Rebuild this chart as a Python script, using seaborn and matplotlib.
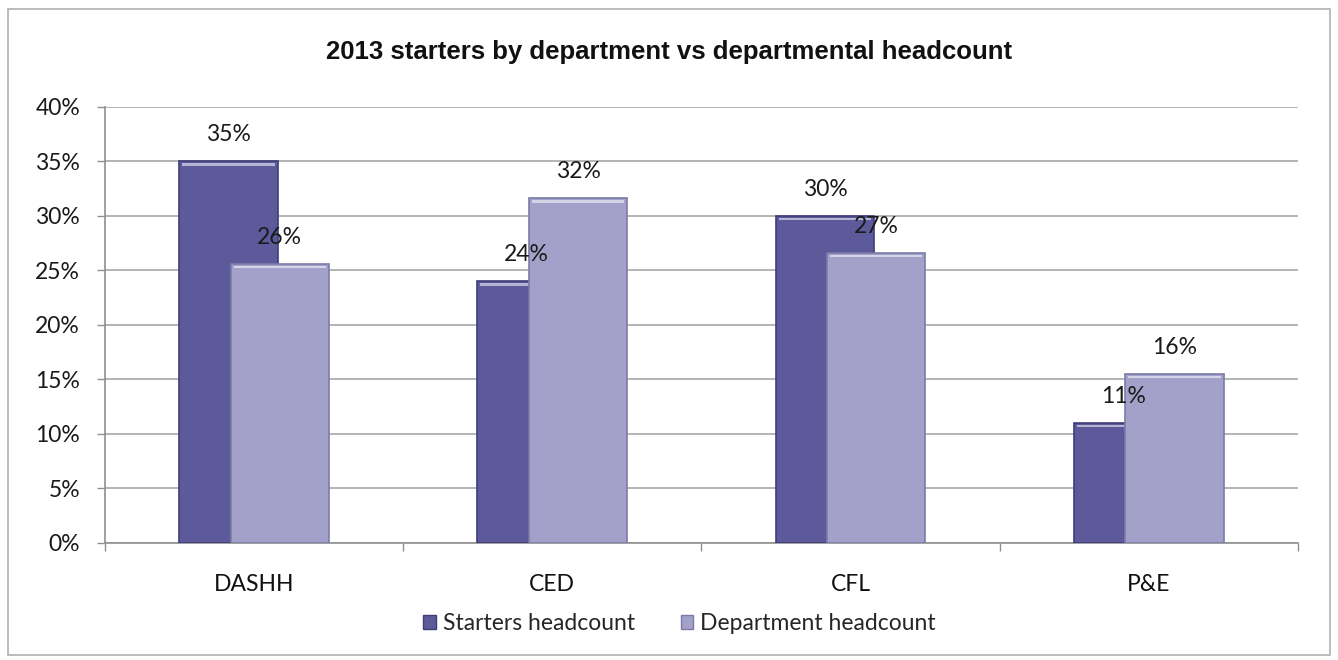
import matplotlib
matplotlib.use("Agg")
import matplotlib.pyplot as plt
from matplotlib.patches import Rectangle
from matplotlib.ticker import PercentFormatter, FixedLocator
import seaborn as sns
import pandas as pd

departments = ["DASHH", "CED", "CFL", "P&E"]
starters_headcount = [0.35, 0.24, 0.30, 0.11]
department_headcount = [0.256, 0.316, 0.266, 0.155]
series_names = ["Starters headcount", "Department headcount"]
y_ticks = [0.0, 0.05, 0.10, 0.15, 0.20, 0.25, 0.30, 0.35, 0.40]

df = pd.DataFrame({
    "department": departments * 2,
    "share": starters_headcount + department_headcount,
    "series": [series_names[0]] * len(departments) + [series_names[1]] * len(departments),
})

sns.set_theme(style="white")
plt.rcParams["font.family"] = ["Lato", "DejaVu Sans"]

colors = {series_names[0]: "#5d5a9c", series_names[1]: "#a3a1ca"}
edges = {series_names[0]: "#3f3c78", series_names[1]: "#7c7aa8"}

fig = plt.figure(figsize=(13.38, 6.6), dpi=100)
ax = fig.add_axes([0.0785, 0.1773, 0.8915, 0.6607])

sns.barplot(data=df, x="department", y="share", hue="series", order=departments,
            hue_order=series_names, palette=colors, width=0.66, dodge=True,
            errorbar=None, saturation=1, ax=ax, legend=False)

# pull the paired bars together so that they overlap; the second series sits in front
shift = 0.079
for container, sgn, name, z in zip(ax.containers, (1, -1), series_names, (3, 5)):
    for bar in container:
        bar.set_x(bar.get_x() + sgn * shift)
        bar.set_edgecolor(edges[name])
        bar.set_linewidth(1.2)
        bar.set_zorder(z)
        # light bevel along the top edge
        x0, w, h = bar.get_x(), bar.get_width(), bar.get_height()
        ax.add_patch(Rectangle((x0 + 0.01, h - 0.004), w - 0.02, 0.0025,
                               facecolor="white", alpha=0.55, edgecolor="none",
                               zorder=z + 0.5))
        ax.text(x0 + w / 2, h + 0.015, f"{h:.0%}", ha="center", va="bottom",
                fontsize=16.5, color="#1a1a1a", zorder=10)

ax.set_xlim(-0.5, len(departments) - 0.5)
ax.set_ylim(0, 0.40)
ax.set_yticks(y_ticks)
ax.yaxis.set_major_formatter(PercentFormatter(1.0, decimals=0))
ax.grid(axis="y", color="#a8a8a8", linewidth=1.2, zorder=0)
ax.set_axisbelow(True)

ax.set_xlabel("")
ax.set_ylabel("")
ax.tick_params(axis="y", labelsize=16.5, colors="#1a1a1a", length=6, width=1,
               direction="out", pad=12, left=True, color="#909090")
ax.tick_params(axis="x", labelsize=16.5, colors="#111111", length=0, pad=22)
ax.xaxis.set_minor_locator(FixedLocator([i - 0.5 for i in range(len(departments) + 1)]))
ax.tick_params(axis="x", which="minor", length=6, width=1, color="#909090", bottom=True)
for lbl in ax.get_yticklabels():
    lbl.set_color("#1a1a1a")

for side in ("top", "right"):
    ax.spines[side].set_visible(False)
for side in ("left", "bottom"):
    ax.spines[side].set_color("#909090")
    ax.spines[side].set_linewidth(1.2)

fig.suptitle("2013 starters by department vs departmental headcount",
             x=0.5, y=0.94, fontsize=18.5, fontweight="bold",
             family=["Liberation Sans", "DejaVu Sans"], color="#111111")

handles = [Rectangle((0, 0), 1, 1, facecolor=colors[n], edgecolor=edges[n]) for n in series_names]
fig.legend(handles, series_names, loc="center", bbox_to_anchor=(0.508, 0.055), ncol=2,
           frameon=False, fontsize=16.5, handlelength=0.55, handleheight=0.55,
           handletextpad=0.3, columnspacing=2.0)

# outer chart frame
fig.add_artist(Rectangle((0.006, 0.008), 0.988, 0.978, transform=fig.transFigure,
                         fill=False, edgecolor="#b0b0b0", linewidth=1.2))

fig.savefig("out.png", dpi=100, facecolor="white")
